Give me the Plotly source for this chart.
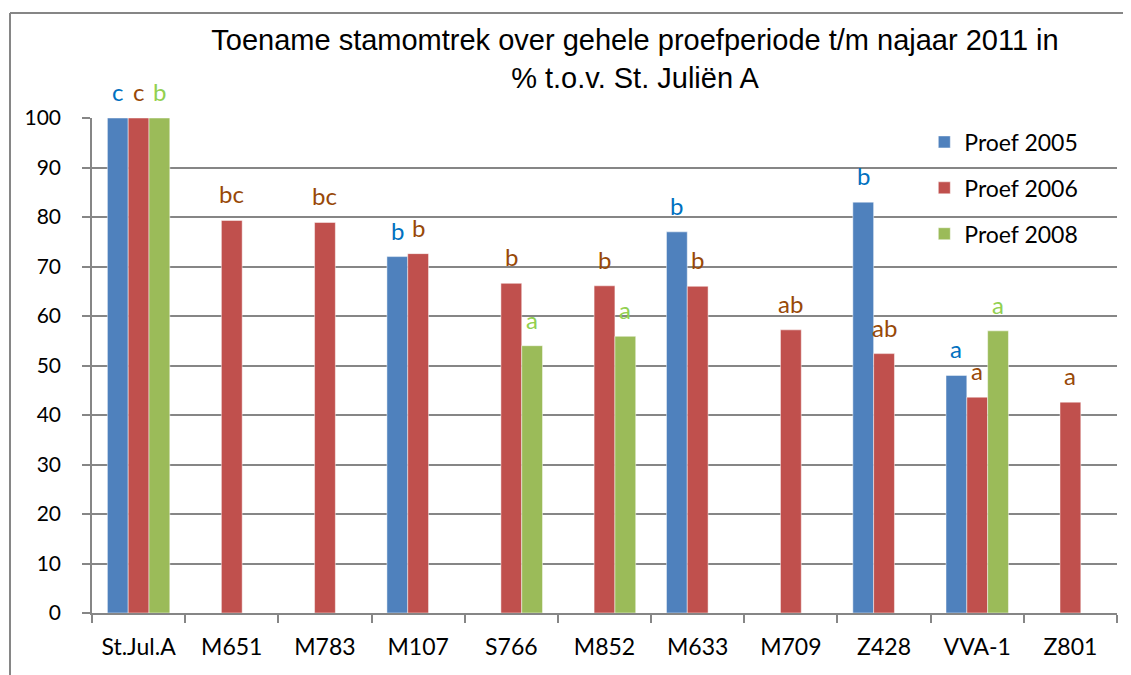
import plotly.graph_objects as go

categories = ['St.Jul.A', 'M651', 'M783', 'M107', 'S766', 'M852', 'M633', 'M709', 'Z428', 'VVA-1', 'Z801']

proef_2005 = [100, None, None, 72.0, None, None, 77.0, None, 83.0, 48.0, None]
proef_2006 = [100, 79.3, 78.9, 72.6, 66.6, 66.1, 66.0, 57.2, 52.4, 43.6, 42.6]
proef_2008 = [100, None, None, None, 54.0, 55.9, None, None, None, 57.0, None]

letters_2005 = ['c', '', '', 'b', '', '', 'b', '', 'b', 'a', '']
letters_2006 = ['c', 'bc', 'bc', 'b', 'b', 'b', 'b', 'ab', 'ab', 'a', 'a']
letters_2008 = ['b', '', '', '', 'a', 'a', '', '', '', 'a', '']

series = [
    ('Proef 2005', proef_2005, letters_2005, '#4F81BD', '#0070C0'),
    ('Proef 2006', proef_2006, letters_2006, '#C0504D', '#984807'),
    ('Proef 2008', proef_2008, letters_2008, '#9BBB59', '#92D050'),
]

# page body has an 8px margin, so the figure is a bit smaller than the window
W, H = 1123, 667
left, right, top, bottom = 84, 14, 110, 62
plot_w = W - left - right
plot_h = H - top - bottom
bargap = 0.33
bar_w = plot_w / len(categories) * (1 - bargap) / 3

fig = go.Figure()
annotations = []
for i, (name, vals, letters, color, txtcolor) in enumerate(series):
    fig.add_trace(go.Bar(
        x=categories, y=vals, name=name, legendgroup=name,
        marker=dict(color=color, line=dict(color='rgba(255,255,255,0.6)', width=0.8)),
        hoverinfo='skip'))
    for cat, v, let in zip(categories, vals, letters):
        if v is None or not let:
            continue
        annotations.append(dict(
            x=cat, y=v, xref='x', yref='y', text=let, showarrow=False,
            xanchor='center', yanchor='bottom', xshift=(i - 1) * bar_w, yshift=10,
            font=dict(family='Lato', size=24, color=txtcolor)))

grid = '#868686'
border_top = (plot_h + top - 5) / plot_h
border_left = (2 - left) / plot_w
fig.update_layout(
    width=W, height=H,
    margin=dict(l=left, r=right, t=top, b=bottom),
    plot_bgcolor='white', paper_bgcolor='white',
    barmode='group', bargap=bargap, bargroupgap=0,
    title=dict(text='Toename stamomtrek over gehele proefperiode t/m najaar 2011 in<br>% t.o.v. St. Juliën A',
               x=627 / W, xanchor='center', xref='container',
               y=1 - 42 / H, yanchor='top', yref='container',
               font=dict(family='Liberation Sans', size=29, color='black')),
    legend=dict(x=0.812, y=0.995, xanchor='left', yanchor='top',
                font=dict(family='Lato', size=23, color='black'),
                bgcolor='rgba(0,0,0,0)', tracegroupgap=13, itemwidth=30),
    annotations=annotations,
    shapes=[
        dict(type='line', xref='paper', yref='paper', x0=border_left, x1=1.1,
             y0=border_top, y1=border_top, line=dict(color=grid, width=2)),
        dict(type='line', xref='paper', yref='paper', x0=border_left, x1=border_left,
             y0=-0.2, y1=border_top, line=dict(color=grid, width=2)),
    ],
)
fig.update_xaxes(showline=True, linecolor=grid, linewidth=1.5, ticks='outside', tickson='boundaries',
                 ticklen=8, tickcolor=grid, tickwidth=1.5, ticklabelstandoff=13,
                 tickfont=dict(family='Lato', size=23, color='black'))
fig.update_yaxes(range=[0, 100], dtick=10, showgrid=True, gridcolor=grid, gridwidth=1.5,
                 showline=True, linecolor=grid, linewidth=1.5, ticks='outside', ticklen=8,
                 tickcolor=grid, tickwidth=1.5, ticklabelstandoff=17, zeroline=False,
                 tickfont=dict(family='Lato', size=21, color='black'))

fig.write_html('out.html')
